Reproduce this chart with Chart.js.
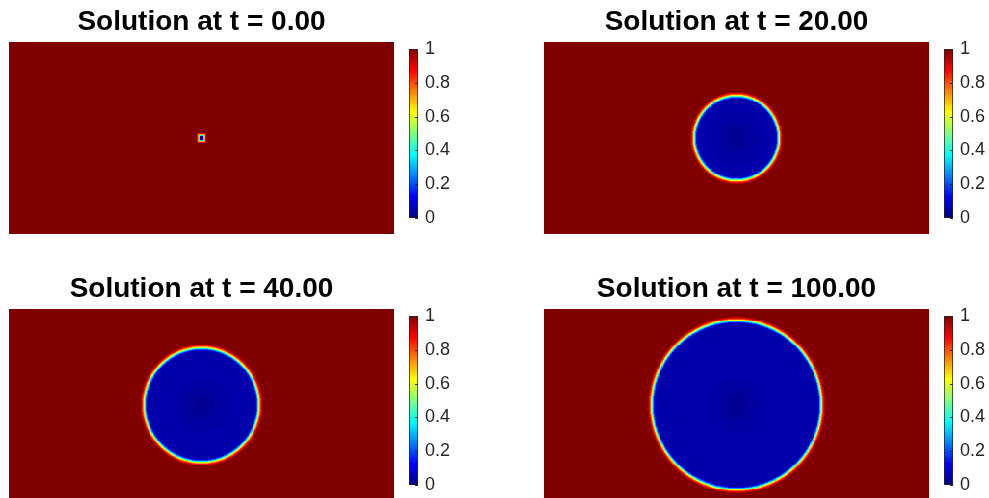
<!DOCTYPE html>
<html>
<head>
<meta charset="utf-8">
<script src="https://cdn.jsdelivr.net/npm/chart.js@4/dist/chart.umd.min.js"></script>
<style>
  html, body { margin: 0; padding: 0; background: #fff; overflow: hidden; }
  body { width: 989px; height: 498px; position: relative; }
  .box { position: absolute; }
  canvas { display: block; }
</style>
</head>
<body>
<script>
// Snapshot times and the radius of the front (value 0.5 contour) in domain units
const times = [0, 20, 40, 100];
const frontRadius = [1.5, 22.0, 29.7, 44.0];
const frontShape = ['square', 'circle', 'circle', 'circle'];

// Initial seed: value by Chebyshev distance from the centre (band upper edges)
const seedEdge = [1.0, 1.5, 2.0, 2.5];
const seedValue = [0.06, 0.38, 0.72, 0.9, 1.0];

// Profile across the front: band lower edges (offset from the front) and values
const bandOffset = [-1.5, -1.25, -1.0, -0.75, -0.5, -0.25, 0.0, 0.25, 0.5, 0.75, 1.0, 1.25, 1.5, 1.75, 2.0];
const bandValue = [0.08, 0.13, 0.20, 0.28, 0.36, 0.45, 0.55, 0.64, 0.72, 0.79, 0.85, 0.89, 0.93, 0.96, 1.0];

// Interior: slightly lower values towards the centre (band upper edges by radius)
const coreEdge = [2, 5, 9, 14];
const coreValue = [0.012, 0.02, 0.028, 0.035, 0.042];

// Colour bar ticks
const cbTicks = [0, 0.2, 0.4, 0.6, 0.8, 1];

// Domain and grid
const domainX = [0, 200];
const domainY = [0, 100];
const cellSize = 0.5;

const FONT = '"Liberation Sans", Arial, Helvetica, sans-serif';
const INK = '#262626';

function clamp01(v) { return Math.max(0, Math.min(1, v)); }
function jet(v) {
  v = clamp01(v);
  const r = clamp01(1.5 - Math.abs(4 * v - 3));
  const g = clamp01(1.5 - Math.abs(4 * v - 2));
  const b = clamp01(1.5 - Math.abs(4 * v - 1));
  return 'rgb(' + Math.round(r * 255) + ',' + Math.round(g * 255) + ',' + Math.round(b * 255) + ')';
}
function lookupUpper(edges, values, d) {
  for (let k = 0; k < edges.length; k++) if (d < edges[k]) return values[k];
  return values[values.length - 1];
}
function lookupLower(edges, values, d) {
  let v = values[0];
  for (let k = 0; k < edges.length; k++) if (d >= edges[k]) v = values[k];
  return v;
}
function fieldValue(p, x, y) {
  const cx = (domainX[0] + domainX[1]) / 2, cy = (domainY[0] + domainY[1]) / 2;
  if (frontShape[p] === 'square') {
    const d = Math.max(Math.abs(x - cx), Math.abs(y - cy));
    return lookupUpper(seedEdge, seedValue, d);
  }
  const d = Math.hypot(x - cx, y - cy);
  const off = d - frontRadius[p];
  if (off < bandOffset[0]) return lookupUpper(coreEdge, coreValue, d);
  return lookupLower(bandOffset, bandValue, off);
}

// Heat map cells, placed through the chart's own x/y scales
const heatmapPlugin = {
  id: 'heatmap',
  beforeDatasetsDraw(chart) {
    const p = chart.options.plugins.heatmap.panel;
    const xs = chart.scales.x, ys = chart.scales.y;
    const ctx = chart.ctx;
    const nx = Math.round((domainX[1] - domainX[0]) / cellSize);
    const ny = Math.round((domainY[1] - domainY[0]) / cellSize);
    ctx.save();
    for (let j = 0; j < ny; j++) {
      const y0 = domainY[0] + j * cellSize, y1 = y0 + cellSize;
      const pyA = Math.round(ys.getPixelForValue(y1));
      const pyB = Math.round(ys.getPixelForValue(y0));
      let runStart = 0;
      let runColor = jet(fieldValue(p, domainX[0] + 0.5 * cellSize, y0 + 0.5 * cellSize));
      for (let i = 1; i <= nx; i++) {
        const c = i < nx ? jet(fieldValue(p, domainX[0] + (i + 0.5) * cellSize, y0 + 0.5 * cellSize)) : null;
        if (c !== runColor) {
          const pxA = Math.round(xs.getPixelForValue(domainX[0] + runStart * cellSize));
          const pxB = Math.round(xs.getPixelForValue(domainX[0] + i * cellSize));
          ctx.fillStyle = runColor;
          ctx.fillRect(pxA, pyA, pxB - pxA, pyB - pyA);
          runStart = i;
          runColor = c;
        }
      }
    }
    ctx.restore();
  }
};

// Colour bar cells and inner tick marks
const colorbarPlugin = {
  id: 'colorbar',
  beforeDatasetsDraw(chart) {
    const ys = chart.scales.y;
    const a = chart.chartArea;
    const ctx = chart.ctx;
    const n = 256;
    const left = Math.round(a.left), right = Math.round(a.right);
    ctx.save();
    for (let k = 0; k < n; k++) {
      const yTop = Math.round(ys.getPixelForValue((k + 1) / n));
      const yBot = Math.round(ys.getPixelForValue(k / n));
      ctx.fillStyle = jet((k + 0.5) / n);
      ctx.fillRect(left, yTop, right - left, yBot - yTop);
    }
    ctx.strokeStyle = INK;
    ctx.lineWidth = 1;
    cbTicks.forEach(v => {
      const y = Math.round(ys.getPixelForValue(v)) + 0.5;
      ctx.beginPath();
      ctx.moveTo(right - 3, y);
      ctx.lineTo(right, y);
      ctx.stroke();
    });
    ctx.strokeStyle = 'rgba(38,38,38,0.75)';
    const top = Math.round(ys.getPixelForValue(1)), bot = Math.round(ys.getPixelForValue(0));
    ctx.strokeRect(left + 0.5, top + 0.5, right - left - 1, bot - top - 1);
    ctx.restore();
  }
};

function makeCanvas(left, top, w, h) {
  const div = document.createElement('div');
  div.className = 'box';
  div.style.left = left + 'px';
  div.style.top = top + 'px';
  div.style.width = w + 'px';
  div.style.height = h + 'px';
  const cv = document.createElement('canvas');
  cv.width = w; cv.height = h;
  cv.style.width = w + 'px'; cv.style.height = h + 'px';
  div.appendChild(cv);
  document.body.appendChild(div);
  return cv;
}

const panelLeft = [9, 544, 9, 544];
const plotTop = [42, 42, 309, 309];
const plotW = 385, plotH = 192;
const barTop = [46, 46, 313, 313];
const barH = 175;

times.forEach((t, p) => {
  // field panel
  const cv = makeCanvas(panelLeft[p], plotTop[p] - 42, plotW, plotH + 42);
  new Chart(cv, {
    type: 'scatter',
    data: { datasets: [{ data: [], pointRadius: 0 }] },
    options: {
      responsive: false,
      animation: false,
      events: [],
      layout: { padding: 0 },
      scales: {
        x: { type: 'linear', display: false, min: domainX[0], max: domainX[1] },
        y: { type: 'linear', display: false, min: domainY[0], max: domainY[1] }
      },
      plugins: {
        legend: { display: false },
        tooltip: { enabled: false },
        title: {
          display: true,
          text: 'Solution at t = ' + t.toFixed(2),
          color: '#000',
          font: { family: FONT, size: 28, weight: 'bold', lineHeight: 1.2 },
          padding: { top: 5.7, bottom: 2.7 }
        },
        heatmap: { panel: p }
      }
    },
    plugins: [heatmapPlugin]
  });

  // colour bar
  const axisW = 45;
  const cb = makeCanvas(panelLeft[p] + 400, barTop[p] - 15, 9 + axisW, barH + 30);
  new Chart(cb, {
    type: 'scatter',
    data: { datasets: [{ data: [], pointRadius: 0 }] },
    options: {
      responsive: false,
      animation: false,
      events: [],
      layout: { padding: { top: 15, bottom: 15, left: 0, right: 0 } },
      scales: {
        x: { type: 'linear', display: false, min: 0, max: 1 },
        y: {
          type: 'linear',
          position: 'right',
          min: 0, max: 1,
          afterBuildTicks(scale) { scale.ticks = cbTicks.map(v => ({ value: v })); },
          afterFit(scale) { scale.width = axisW; },
          grid: { display: false, drawTicks: false },
          border: { display: false },
          ticks: {
            color: INK,
            padding: 7,
            font: { family: FONT, size: 18 },
            callback: v => String(v)
          }
        }
      },
      plugins: { legend: { display: false }, tooltip: { enabled: false } }
    },
    plugins: [colorbarPlugin]
  });
});
</script>
</body>
</html>
